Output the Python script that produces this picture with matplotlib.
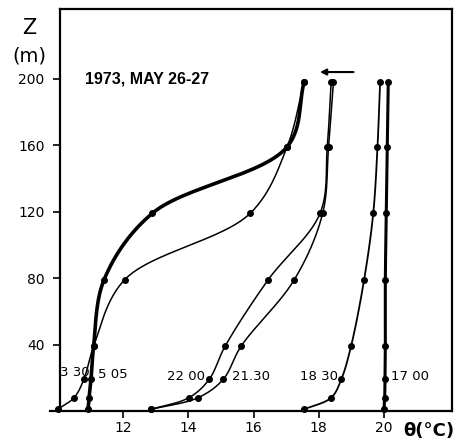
import numpy as np
import matplotlib
matplotlib.use("Agg")
import matplotlib.pyplot as plt

plt.rcParams['font.family'] = ['DejaVu Sans']

# heights (m) of measurement levels
levels = [1, 8, 19, 39, 79, 119, 159, 198]
# potential temperature profiles (deg C)
t_0330 = [10.0, 10.5, 10.8, 11.1, 12.05, 15.9, 17.03, 17.55]
t_0505 = [10.93, 10.96, 11.02, 11.1, 11.42, 12.9, 17.03, 17.55]
t_2200 = [12.86, 14.02, 14.64, 15.13, 16.45, 18.04, 18.26, 18.38]
t_2130 = [12.86, 14.3, 15.07, 15.62, 17.25, 18.12, 18.3, 18.45]
t_1830 = [17.55, 18.38, 18.69, 18.99, 19.39, 19.67, 19.8, 19.88]
t_1700 = [20.0, 20.02, 20.03, 20.04, 20.04, 20.07, 20.1, 20.13]

profiles = [
    ("3 30", t_0330, 1.1),
    ("5 05", t_0505, 2.6),
    ("22 00", t_2200, 1.1),
    ("21.30", t_2130, 1.1),
    ("18 30", t_1830, 1.3),
    ("17 00", t_1700, 2.2),
]
label_pos = {"3 30": (10.08, 23), "5 05": (11.22, 22), "22 00": (13.35, 21),
             "21.30": (15.33, 21), "18 30": (17.43, 21), "17 00": (20.2, 21)}

xticks = [12, 14, 16, 18, 20]
yticks = [40, 80, 120, 160, 200]

fig = plt.figure(figsize=(4.56, 4.46), dpi=100)
ax = fig.add_axes([0.1316, 0.0785, 0.8594, 0.9015])
ax.set_xlim(10.07, 22.08)
ax.set_ylim(0, 242)


def catmull_rom(xs, ys, n=30):
    P = ax.transData.transform(np.column_stack([xs, ys]))
    P = np.vstack([2 * P[0] - P[1], P, 2 * P[-1] - P[-2]])
    out = []
    for i in range(1, len(P) - 2):
        p0, p1, p2, p3 = P[i - 1], P[i], P[i + 1], P[i + 2]
        d01 = max(np.linalg.norm(p1 - p0) ** 0.5, 1e-6)
        d12 = max(np.linalg.norm(p2 - p1) ** 0.5, 1e-6)
        d23 = max(np.linalg.norm(p3 - p2) ** 0.5, 1e-6)
        t0, t1 = 0.0, d01
        t2, t3 = t1 + d12, t1 + d12 + d23
        ts = np.linspace(t1, t2, n)[:, None]
        A1 = (t1 - ts) / (t1 - t0) * p0 + (ts - t0) / (t1 - t0) * p1
        A2 = (t2 - ts) / (t2 - t1) * p1 + (ts - t1) / (t2 - t1) * p2
        A3 = (t3 - ts) / (t3 - t2) * p2 + (ts - t2) / (t3 - t2) * p3
        B1 = (t2 - ts) / (t2 - t0) * A1 + (ts - t0) / (t2 - t0) * A2
        B2 = (t3 - ts) / (t3 - t1) * A2 + (ts - t1) / (t3 - t1) * A3
        C = (t2 - ts) / (t2 - t1) * B1 + (ts - t1) / (t2 - t1) * B2
        out.append(C)
    pts = ax.transData.inverted().transform(np.vstack(out))
    return pts[:, 0], pts[:, 1]


for name, temps, lw in profiles:
    cx, cy = catmull_rom(temps, levels)
    ax.plot(cx, cy, color='black', lw=lw, clip_on=False)
    ax.plot(temps, levels, 'o', color='black', ms=4.0, clip_on=False)
    lx, ly = label_pos[name]
    ax.text(lx, ly, name, fontsize=9.5, ha='left', va='center', color='black')

ax.text(10.85, 200, "1973, MAY 26-27", fontsize=11.5, fontweight='bold',
        ha='left', va='center', family=['Liberation Sans'])
ax.annotate("", xy=(17.95, 204), xytext=(19.15, 204),
            arrowprops=dict(arrowstyle='-|>', color='black', lw=1.5,
                            mutation_scale=9))
# bottom axis line extends slightly left of the vertical axis
ax.plot([9.75, 10.07], [0, 0], color='black', lw=1.6, clip_on=False)

ax.set_xticks(xticks)
ax.set_xticklabels([str(v) for v in xticks])
ax.set_yticks(yticks)
ax.set_yticklabels([str(v) for v in yticks])
ax.tick_params(direction='out', length=5, width=1.2, labelsize=10, colors='black')
ax.tick_params(axis='y', pad=6)
ax.tick_params(axis='x', pad=2)
for s in ax.spines.values():
    s.set_linewidth(1.6)
    s.set_color('black')

fig.text(29 / 456, 1 - 28 / 446, "Z", fontsize=15, ha='center', va='center')
fig.text(29 / 456, 1 - 56 / 446, "(m)", fontsize=14, ha='center', va='center')
fig.text(454 / 456, 1 - 431 / 446, "θ(°C)", fontsize=13, fontweight='bold',
         ha='right', va='center')

fig.savefig("out.png", dpi=100, facecolor='white')
